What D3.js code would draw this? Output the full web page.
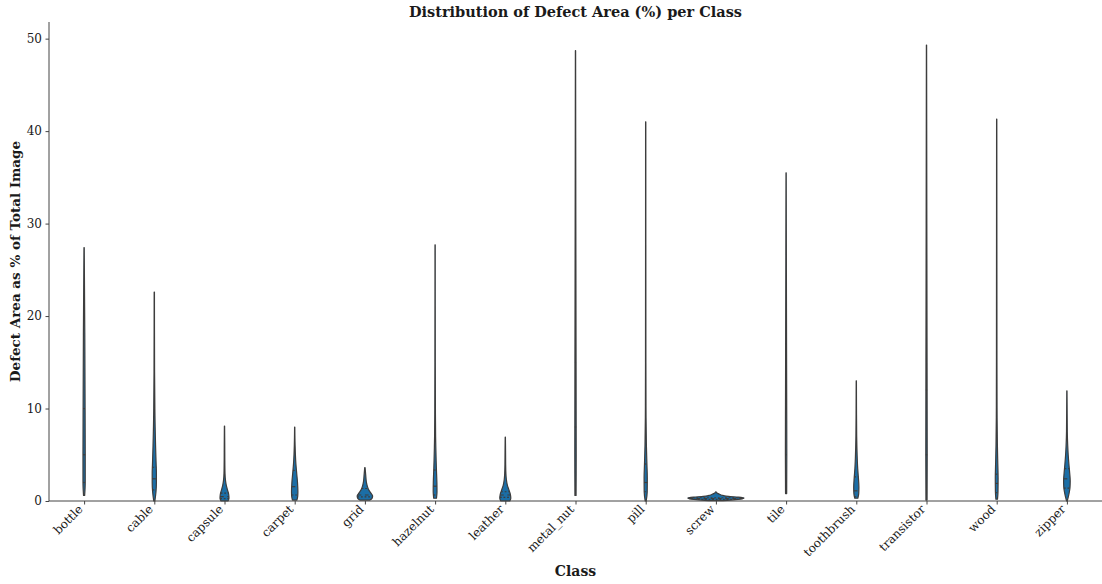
<!DOCTYPE html>
<html>
<head>
<meta charset="utf-8">
<script src="https://cdn.jsdelivr.net/npm/d3@7/dist/d3.min.js"></script>
<style>
  html, body { margin: 0; padding: 0; background: #ffffff; }
  svg { display: block; }
  text { font-family: "DejaVu Serif", serif; fill: #1a1a1a; }
</style>
</head>
<body>
<svg id="chart" width="1102" height="584"></svg>
<script>
// Defect classes on the x axis
const classes = ["bottle", "cable", "capsule", "carpet", "grid", "hazelnut", "leather",
  "metal_nut", "pill", "screw", "tile", "toothbrush", "transistor", "wood", "zipper"];

// Smallest and largest defect area (%) per class
const minArea = [0.6, 0.0, 0.0, 0.1, 0.1, 0.3, 0.0, 0.6, 0.0, 0.05, 0.8, 0.3, 0.1, 0.2, 0.0];
const maxArea = [27.4, 22.6, 8.1, 8.0, 3.6, 27.7, 6.9, 48.7, 41.0, 1.0, 35.5, 13.0, 49.3, 41.3, 11.9];

// Quartiles per class
const q1Area     = [2.0, 1.2, 0.25, 0.65, 0.45, 0.65, 0.4, 8.0, 1.0, 0.18, 5.0, 0.45, 5.0, 0.9, 1.4];
const medianArea = [5.0, 2.4, 0.47, 1.55, 0.65, 1.6, 0.65, 15.0, 2.0, 0.25, 10.0, 1.1, 12.0, 1.9, 2.4];
const q3Area     = [10.0, 3.65, 0.85, 3.3, 1.35, 3.35, 1.0, 25.0, 4.0, 0.35, 17.0, 2.6, 22.0, 2.9, 3.5];

// Kernel density profile per class: [area %, density relative to the widest violin]
const densityProfiles = [
  [[0.6, 0.02], [2, 0.04], [5, 0.04], [10, 0.035], [18, 0.025], [27.4, 0.005]],
  [[0, 0.02], [1, 0.06], [2, 0.075], [3, 0.075], [4, 0.065], [6, 0.045], [8, 0.03], [10, 0.02], [14, 0.01], [22.6, 0.005]],
  [[0, 0.125], [0.3, 0.16], [0.7, 0.15], [1.2, 0.107], [1.7, 0.064], [2.2, 0.036], [3, 0.018], [4.5, 0.011], [6, 0.009], [8.1, 0.004]],
  [[0.1, 0.079], [0.5, 0.107], [1, 0.114], [2, 0.1], [3, 0.071], [4, 0.043], [5, 0.025], [6, 0.014], [8.0, 0.004]],
  [[0.1, 0.179], [0.3, 0.257], [0.55, 0.275], [0.85, 0.214], [1.2, 0.136], [1.6, 0.086], [2.1, 0.05], [2.8, 0.029], [3.6, 0.007]],
  [[0.3, 0.05], [1, 0.068], [2, 0.064], [3.5, 0.046], [5, 0.032], [7, 0.018], [10, 0.011], [15, 0.007], [27.7, 0.004]],
  [[0, 0.161], [0.3, 0.196], [0.7, 0.182], [1.2, 0.129], [1.7, 0.075], [2.3, 0.039], [3, 0.021], [4, 0.0125], [5.5, 0.009], [6.9, 0.004]],
  [[0.6, 0.02], [5, 0.025], [15, 0.02], [30, 0.012], [48.7, 0.004]],
  [[0, 0.018], [1, 0.054], [2.5, 0.057], [4, 0.043], [6, 0.025], [9, 0.0125], [15, 0.007], [41.0, 0.004]],
  [[0.05, 0.25], [0.15, 0.7], [0.25, 0.95], [0.33, 1.0], [0.42, 0.8], [0.5, 0.45], [0.6, 0.25], [0.7, 0.15], [0.8, 0.08], [0.9, 0.03], [1.0, 0.005]],
  [[0.8, 0.02], [5, 0.025], [12, 0.02], [25, 0.01], [35.5, 0.004]],
  [[0.3, 0.054], [0.8, 0.086], [1.5, 0.093], [2.5, 0.075], [3.5, 0.05], [5, 0.029], [7, 0.014], [10, 0.007], [13.0, 0.004]],
  [[0.1, 0.02], [5, 0.025], [15, 0.02], [30, 0.012], [49.3, 0.004]],
  [[0.2, 0.029], [1, 0.046], [2.5, 0.05], [4, 0.039], [6, 0.025], [9, 0.014], [15, 0.009], [41.3, 0.004]],
  [[0, 0.011], [0.5, 0.054], [1, 0.089], [1.5, 0.111], [2.2, 0.118], [3, 0.1], [4, 0.071], [5, 0.046], [6, 0.029], [7.5, 0.014], [9.5, 0.009], [11.9, 0.004]]
];

const yTicks = [0, 10, 20, 30, 40, 50];

const svg = d3.select("#chart");
const plot = { left: 49, right: 1102, top: 22, bottom: 501 };

const x = d3.scalePoint().domain(classes).range([plot.left, plot.right]).padding(0.5);
const y = d3.scaleLinear().domain([0, 51.8]).range([plot.bottom, plot.top]);
const halfMax = x.step() * 0.4;

const fillBlue = "#1b6ea6";
const edgeGray = "#3d3d3d";
const lw = 1.2;

// Violins
const violins = svg.append("g");
classes.forEach((c, i) => {
  const cx = x(c);
  const prof = densityProfiles[i];
  const area = d3.area()
    .y(d => y(d[0]))
    .x0(d => cx - d[1] * halfMax)
    .x1(d => cx + d[1] * halfMax)
    .curve(d3.curveMonotoneY);
  violins.append("path")
    .attr("d", area(prof))
    .attr("fill", fillBlue)
    .attr("stroke", edgeGray)
    .attr("stroke-width", lw)
    .attr("stroke-linejoin", "round");

  // Width of the violin at a given value, read along its profile
  const widthAt = v => {
    for (let k = 0; k < prof.length - 1; k++) {
      const a = prof[k], b = prof[k + 1];
      if (v >= a[0] && v <= b[0]) {
        const t = (v - a[0]) / (b[0] - a[0]);
        return (a[1] + t * (b[1] - a[1])) * halfMax;
      }
    }
    return 0;
  };
  [[q1Area[i], lw * 1.5], [medianArea[i], lw * 3], [q3Area[i], lw * 1.5]].forEach(([v, dash]) => {
    const w = widthAt(v);
    violins.append("line")
      .attr("x1", cx - w).attr("x2", cx + w)
      .attr("y1", y(v)).attr("y2", y(v))
      .attr("stroke", edgeGray)
      .attr("stroke-width", lw)
      .attr("stroke-dasharray", `${dash},${dash}`);
  });
});

// Axes
const yAxis = d3.axisLeft(y).tickValues(yTicks).tickSize(3.5).tickPadding(3.5).tickSizeOuter(0);
const gy = svg.append("g").attr("transform", `translate(${plot.left},0)`).call(yAxis);
gy.select(".domain").attr("stroke", "#444").attr("d", `M0,${plot.bottom}V${plot.top}`);
gy.selectAll(".tick line").attr("stroke", "#444");
gy.selectAll(".tick text").attr("font-size", 12).attr("font-family", "DejaVu Serif").attr("fill", "#1a1a1a");

const xAxis = d3.axisBottom(x).tickSize(3.5).tickSizeOuter(0);
const gx = svg.append("g").attr("transform", `translate(0,${plot.bottom})`).call(xAxis);
gx.select(".domain").attr("stroke", "#444").attr("d", `M${plot.left},0H${plot.right}`);
gx.selectAll(".tick line").attr("stroke", "#444");
gx.selectAll(".tick text")
  .attr("font-size", 12)
  .attr("font-family", "DejaVu Serif")
  .attr("fill", "#1a1a1a")
  .attr("text-anchor", "end")
  .attr("dy", null)
  .attr("y", 0)
  .attr("transform", "translate(-1,9) rotate(-45)");

// Titles
svg.append("text")
  .attr("x", (plot.left + plot.right) / 2).attr("y", 17)
  .attr("text-anchor", "middle")
  .attr("font-size", 14.5).attr("font-weight", "bold")
  .text("Distribution of Defect Area (%) per Class");

svg.append("text")
  .attr("x", (plot.left + plot.right) / 2).attr("y", 576)
  .attr("text-anchor", "middle")
  .attr("font-size", 14).attr("font-weight", "bold")
  .text("Class");

svg.append("text")
  .attr("transform", `translate(19.5,${(plot.top + plot.bottom) / 2}) rotate(-90)`)
  .attr("text-anchor", "middle")
  .attr("font-size", 13.5).attr("font-weight", "bold")
  .text("Defect Area as % of Total Image");
</script>
</body>
</html>
